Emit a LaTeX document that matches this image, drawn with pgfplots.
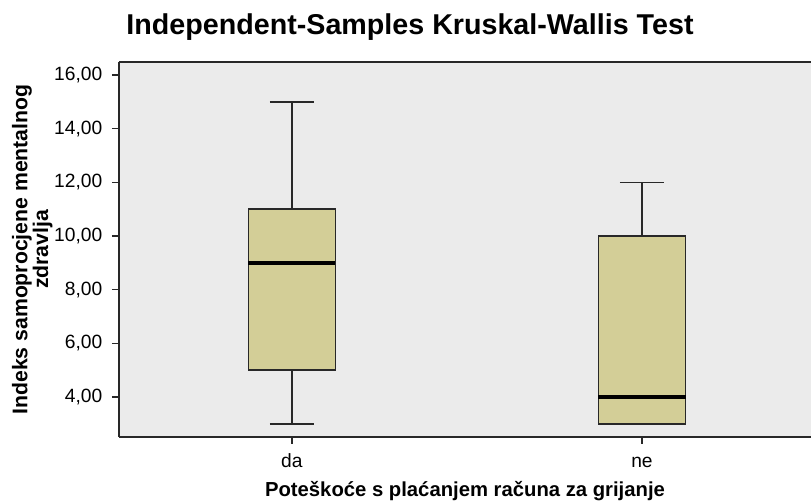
\documentclass[border=0pt]{standalone}
\usepackage{pgfplots}
\pgfplotsset{compat=1.18}
\usepgfplotslibrary{statistics}
\usepackage{fontspec}
\setmainfont{Liberation Sans}
\definecolor{bgray}{RGB}{235,235,235}
\definecolor{boxfill}{RGB}{211,206,151}
\definecolor{linec}{RGB}{40,40,40}
\begin{document}
\begin{tikzpicture}
\useasboundingbox (-89.25pt,-49.5pt) rectangle (519pt,327.75pt);
\begin{axis}[
  scale only axis, width=519pt, height=281.25pt,
  xmin=0.506, xmax=2.483, ymin=2.509, ymax=16.485,
  axis x line*=bottom, axis y line*=left,
  axis background/.style={fill=bgray},
  axis line style={linec, line width=1pt},
  tick align=outside, major tick length=5.25pt,
  tick style={linec, line width=1pt},
  xtick={1,2}, xticklabels={da,ne},
  ytick={4,6,8,10,12,14,16},
  /pgf/number format/fixed, /pgf/number format/fixed zerofill,
  /pgf/number format/precision=2, /pgf/number format/use comma,
  /pgf/number format/assume math mode=true,
  yticklabel style={xshift=-3.75pt},
  xticklabel style={anchor=base, yshift=-17.5pt},
  ticklabel style={font=\fontsize{14.4}{17}\selectfont},
  title={Independent-Samples Kruskal-Wallis Test},
  title style={font=\bfseries\fontsize{21.5}{25}\selectfont, at={(rel axis cs:0.4205,1)}, anchor=base, yshift=14.5pt},
  xlabel={Poteškoće s plaćanjem računa za grijanje},
  xlabel style={font=\bfseries\fontsize{15.2}{18}\selectfont, at={(rel axis cs:0.5,0)}, anchor=base, yshift=-45pt},
  ylabel={Indeks samoprocjene mentalnog\\zdravlja},
  ylabel style={font=\bfseries\fontsize{15.9}{15.5}\selectfont, align=center, at={(rel axis cs:0,0.5)}, anchor=center, yshift=65pt},
  boxplot/draw direction=y,
]
\addplot[boxplot prepared={draw position=1, lower whisker=3, lower quartile=5, median=9, upper quartile=11, upper whisker=15, box extend=0.249, whisker extend=0.126, every median/.style={line width=3pt, black}}, fill=boxfill, draw=linec, line width=1.1pt] coordinates {};
\addplot[boxplot prepared={draw position=2, lower whisker=3, lower quartile=3, median=4, upper quartile=10, upper whisker=12, box extend=0.249, whisker extend=0.126, every median/.style={line width=3pt, black}}, fill=boxfill, draw=linec, line width=1.1pt] coordinates {};
\draw[linec, line width=1pt] (rel axis cs:0,1) -- (rel axis cs:1,1);
\end{axis}
\end{tikzpicture}
\end{document}
